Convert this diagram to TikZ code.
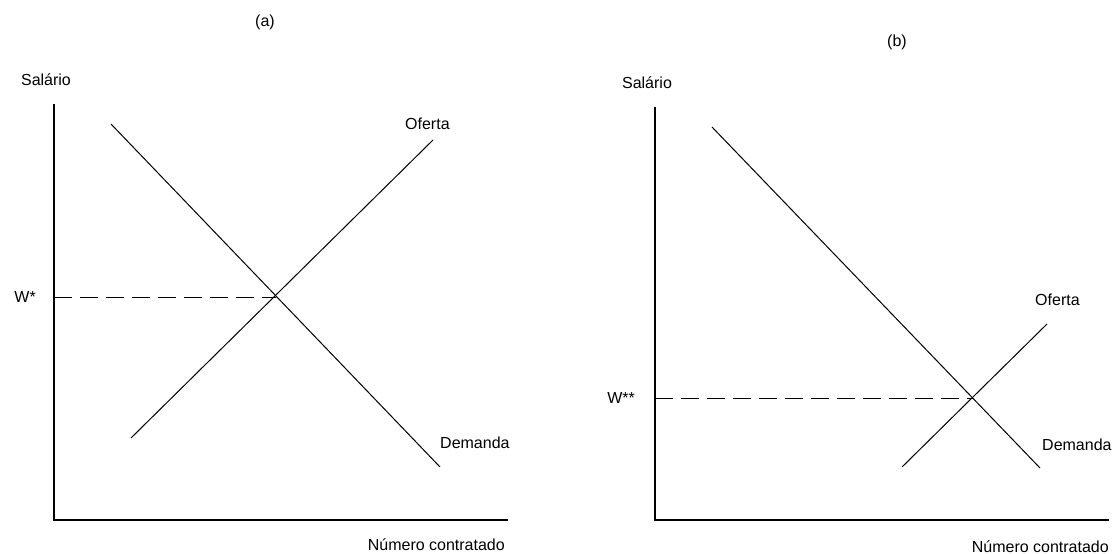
\documentclass[tikz,border=0pt]{standalone}
\usepackage{fontspec}
\setmainfont{Liberation Sans}
\begin{document}
\begin{tikzpicture}[x=1pt,y=-1pt,
  lbl/.style={font=\fontsize{16}{18}\selectfont, inner sep=0pt},
  axis/.style={line width=1.6pt, line cap=butt},
  curve/.style={line width=1pt},
  guide/.style={line width=1pt, dash pattern=on 18pt off 8pt}]
\useasboundingbox (0,0) rectangle (1117,554);
% ---------- panel (a)
\node[lbl] (ta) at (265,22) {(a)};
\node[lbl] (ya) at (46,80) {Salário};
\coordinate (a0) at (54,520);
\coordinate (atop) at (54,104);
\coordinate (aright) at (508,520);
\draw[axis] (atop) -- (a0) -- (aright);
\coordinate (ad1) at (111,124);
\coordinate (ad2) at (440,467);
\coordinate (as1) at (131,438);
\coordinate (as2) at (433,140);
\draw[curve] (ad1) -- (ad2);
\draw[curve] (as1) -- (as2);
\coordinate (aeq) at (276,297);
\coordinate (aw) at (54,297);
\draw[guide] (aw) -- (aeq);
\node[lbl, anchor=east] (wa) at (36,297) {W*};
\node[lbl, anchor=west] (oa) at (405,124) {Oferta};
\node[lbl, anchor=west] (da) at (440,443) {Demanda};
\node[lbl, anchor=east] (xa) at (505,545) {Número contratado};
% ---------- panel (b)
\node[lbl] (tb) at (897,42) {(b)};
\node[lbl] (yb) at (647,83) {Salário};
\coordinate (b0) at (655,520);
\coordinate (btop) at (655,107);
\coordinate (bright) at (1109,520);
\draw[axis] (btop) -- (b0) -- (bright);
\coordinate (bd1) at (712,127);
\coordinate (bd2) at (1040,468);
\coordinate (bs1) at (902,467);
\coordinate (bs2) at (1047,324);
\draw[curve] (bd1) -- (bd2);
\draw[curve] (bs1) -- (bs2);
\coordinate (beq) at (973,398);
\coordinate (bw) at (655,398);
\draw[guide] (bw) -- (beq);
\node[lbl, anchor=east] (wb) at (635,398) {W**};
\node[lbl, anchor=west] (ob) at (1035,300) {Oferta};
\node[lbl, anchor=west] (db) at (1042,445) {Demanda};
\node[lbl, anchor=east] (xb) at (1109,547) {Número contratado};
\end{tikzpicture}
\end{document}
